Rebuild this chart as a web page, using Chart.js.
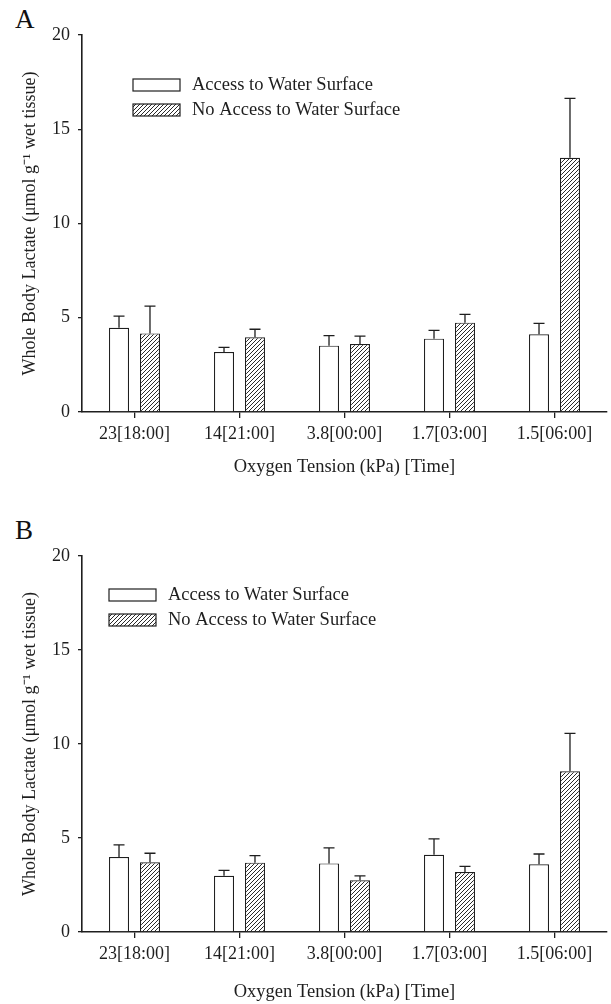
<!DOCTYPE html>
<html>
<head>
<meta charset="utf-8">
<script src="https://cdn.jsdelivr.net/npm/chart.js@4/dist/chart.umd.min.js"></script>
<style>
  html, body { margin: 0; padding: 0; background: #fff; }
  body { width: 611px; height: 1004px; position: relative; overflow: hidden; }
  .panel { position: absolute; left: 0; }
  .letter { position: absolute; left: 15px; font-family: "Liberation Serif", "Times New Roman", serif; font-size: 27px; color: #111; line-height: 1; }
</style>
</head>
<body>
<div class="letter" style="top:6px">A</div>
<div class="letter" style="top:517px">B</div>
<canvas id="chartA" class="panel" style="top:0" width="611" height="490"></canvas>
<canvas id="chartB" class="panel" style="top:490px" width="611" height="514"></canvas>
<script>
// categories: oxygen tension [time]
const categories = ['23[18:00]', '14[21:00]', '3.8[00:00]', '1.7[03:00]', '1.5[06:00]'];
const seriesNames = ['Access to Water Surface', 'No Access to Water Surface'];
const yTicks = [0, 5, 10, 15, 20];

// panel A
const accessA = [4.47, 3.18, 3.52, 3.89, 4.12];
const accessAErr = [0.62, 0.25, 0.53, 0.44, 0.58];
const noAccessA = [4.17, 3.96, 3.61, 4.74, 13.49];
const noAccessAErr = [1.45, 0.43, 0.42, 0.44, 3.15];

// panel B
const accessB = [3.99, 2.99, 3.65, 4.11, 3.60];
const accessBErr = [0.64, 0.29, 0.83, 0.84, 0.55];
const noAccessB = [3.71, 3.69, 2.75, 3.19, 8.55];
const noAccessBErr = [0.48, 0.37, 0.24, 0.30, 2.02];

const FONT = '"Liberation Serif", "Times New Roman", serif';
const INK = '#1e1e1e';

function makeHatch() {
    const c = document.createElement('canvas');
    c.width = 4; c.height = 4;
    const g = c.getContext('2d');
    g.fillStyle = '#fff';
    g.fillRect(0, 0, 4, 4);
    g.strokeStyle = '#2a2a2a';
    g.lineWidth = 1;
    g.beginPath();
    g.moveTo(-1, 5); g.lineTo(5, -1);
    g.moveTo(-1, 1); g.lineTo(1, -1);
    g.moveTo(3, 5); g.lineTo(5, 3);
    g.stroke();
    return g.createPattern(c, 'repeat');
}

// vertical error bars (upper only), positioned with the chart's own scales
const errorBars = {
    id: 'errorBars',
    afterDatasetsDraw(chart) {
        const ctx = chart.ctx;
        const yScale = chart.scales.y;
        ctx.save();
        ctx.strokeStyle = INK;
        ctx.lineWidth = 1.3;
        chart.data.datasets.forEach((ds, i) => {
            const meta = chart.getDatasetMeta(i);
            meta.data.forEach((bar, j) => {
                const top = yScale.getPixelForValue(ds.data[j] + ds.errors[j]);
                ctx.beginPath();
                ctx.moveTo(bar.x, bar.y);
                ctx.lineTo(bar.x, top);
                ctx.moveTo(bar.x - 5.5, top);
                ctx.lineTo(bar.x + 5.5, top);
                ctx.stroke();
            });
        });
        ctx.restore();
    }
};

// legend drawn inside the plot area, stacked like the original
const boxLegend = {
    id: 'boxLegend',
    afterDraw(chart, args, opts) {
        const ctx = chart.ctx;
        const area = chart.chartArea;
        ctx.save();
        ctx.font = '18.5px ' + FONT;
        ctx.textBaseline = 'middle';
        ctx.fillStyle = INK;
        chart.data.datasets.forEach((ds, i) => {
            const x = area.left + opts.dx;
            const y = area.top + opts.dy + i * 25;
            ctx.fillStyle = ds.backgroundColor;
            ctx.fillRect(x, y, 47, 12);
            ctx.strokeStyle = INK;
            ctx.lineWidth = 1.2;
            ctx.strokeRect(x, y, 47, 12);
            ctx.fillStyle = INK;
            ctx.fillText(ds.label, x + 59, y + 6.5);
        });
        ctx.restore();
    }
};

function buildChart(id, access, accessErr, noAccess, noAccessErr, layout) {
    const hatch = makeHatch();
    return new Chart(document.getElementById(id), {
        type: 'bar',
        data: {
            labels: categories,
            datasets: [
                { label: seriesNames[0], data: access, errors: accessErr, backgroundColor: '#ffffff',
                  borderColor: INK, borderWidth: 1.2 },
                { label: seriesNames[1], data: noAccess, errors: noAccessErr, backgroundColor: hatch,
                  borderColor: INK, borderWidth: 1.2 }
            ]
        },
        options: {
            responsive: false,
            animation: false,
            devicePixelRatio: 1,
            layout: { padding: { top: layout.top, right: 4, bottom: 0, left: 0 } },
            datasets: { bar: { categoryPercentage: 0.59, barPercentage: 0.645, borderSkipped: 'bottom' } },
            plugins: {
                legend: { display: false },
                tooltip: { enabled: false },
                boxLegend: { dx: layout.legendDx, dy: layout.legendDy }
            },
            scales: {
                x: {
                    offset: true,
                    grid: { display: true, drawOnChartArea: false, drawTicks: true, tickLength: 6, offset: false, color: INK, lineWidth: 1.3 },
                    border: { display: true, color: INK, width: 1.6 },
                    ticks: { color: INK, font: { family: FONT, size: 18 }, padding: 5, maxRotation: 0, autoSkip: false },
                    title: { display: true, text: 'Oxygen Tension (kPa) [Time]', color: INK,
                             font: { family: FONT, size: 18.5 }, padding: { top: 0, bottom: layout.xTitlePad } },
                    afterFit: (s) => { s.height = layout.xHeight; }
                },
                y: {
                    min: 0, max: 20,
                    afterBuildTicks: (s) => { s.ticks = yTicks.map(v => ({ value: v })); },
                    grid: { display: true, drawOnChartArea: false, drawTicks: true, tickLength: 4, color: INK, lineWidth: 1.3 },
                    border: { display: true, color: INK, width: 1.6 },
                    ticks: { color: INK, font: { family: FONT, size: 18 }, padding: 8 },
                    title: { display: true, text: 'Whole Body Lactate (μmol g⁻¹ wet tissue)', color: INK,
                             font: { family: FONT, size: 18 }, padding: { top: 19, bottom: 0 } },
                    afterFit: (s) => { s.width = 82; }
                }
            }
        },
        plugins: [errorBars, boxLegend]
    });
}

buildChart('chartA', accessA, accessAErr, noAccessA, noAccessAErr,
    { top: 35, xHeight: 78, xTitlePad: 12, legendDx: 51, legendDy: 44 });
buildChart('chartB', accessB, accessBErr, noAccessB, noAccessBErr,
    { top: 66, xHeight: 72, xTitlePad: 1, legendDx: 27, legendDy: 33 });
</script>
</body>
</html>
